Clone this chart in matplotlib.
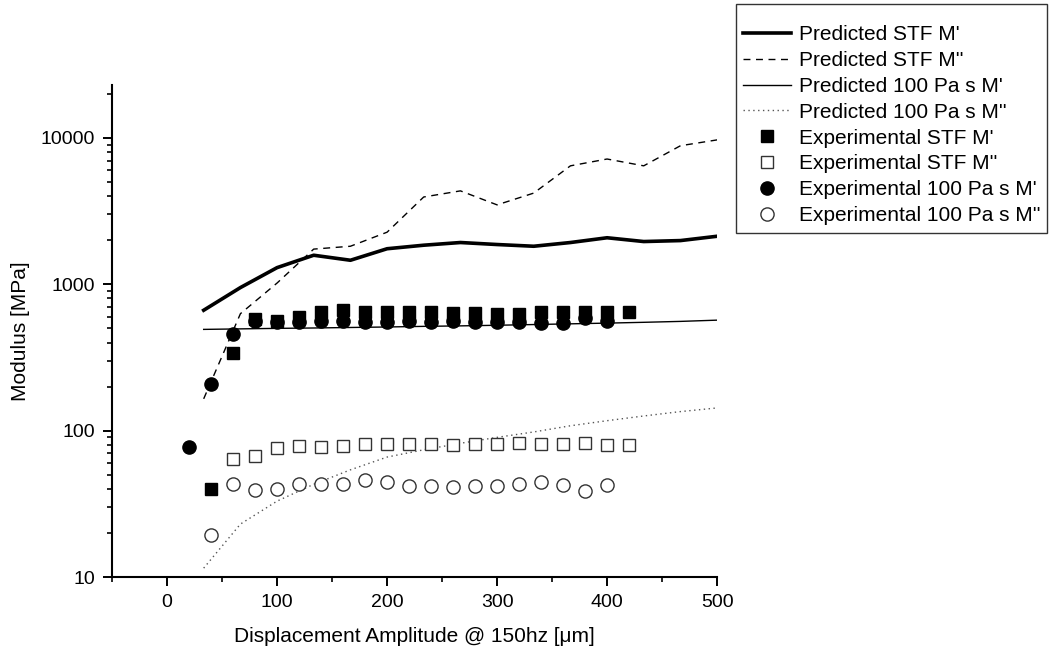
import matplotlib
matplotlib.use("Agg")
import matplotlib.pyplot as plt
from matplotlib.ticker import LogLocator, FixedLocator, NullFormatter

plt.rcParams["font.family"] = ["Liberation Sans", "DejaVu Sans"]

# predicted curves share the same x grid
pred_x = [33.3, 66.7, 100, 133.3, 166.7, 200, 233.3, 266.7, 300, 333.3,
          366.7, 400, 433.3, 466.7, 500]
pred_stf_storage = [665, 950, 1300, 1580, 1460, 1750, 1850, 1930, 1870, 1820,
                    1930, 2080, 1960, 1990, 2130]
pred_stf_loss = [165, 630, 1020, 1740, 1820, 2270, 3950, 4350, 3490, 4200,
                 6450, 7180, 6450, 8850, 9700]
pred_100_storage = [492, 496, 500, 503, 507, 511, 516, 520, 525, 531,
                    537, 543, 550, 558, 569]
pred_100_loss = [11.5, 23, 33, 43, 54, 66, 74, 82, 90, 98,
                 108, 117, 126, 135, 143]

# experimental data
exp_stf_x = [40, 60, 80, 100, 120, 140, 160, 180, 200, 220, 240, 260, 280,
             300, 320, 340, 360, 380, 400, 420]
exp_stf_storage = [40, 342, 575, 560, 600, 643, 663, 646, 646, 646, 643, 636,
                   636, 630, 630, 646, 646, 646, 646, 646]
exp_stf_loss_x = [60, 80, 100, 120, 140, 160, 180, 200, 220, 240, 260, 280,
                  300, 320, 340, 360, 380, 400, 420]
exp_stf_loss = [64, 67.5, 76.5, 79, 77.3, 79, 81.5, 80.5, 81.5, 81.5, 80,
                81.5, 81, 82.5, 81.5, 81.5, 82.5, 80, 80]

exp_100_x = [20, 40, 60, 80, 100, 120, 140, 160, 180, 200, 220, 240, 260,
             280, 300, 320, 340, 360, 380, 400]
exp_100_storage = [77.6, 210, 461, 558, 550, 550, 558, 564, 555, 555, 564,
                   550, 558, 550, 550, 556, 545, 548, 585, 558]
exp_100_loss_x = [40, 60, 80, 100, 120, 140, 160, 180, 200, 220, 240, 260,
                  280, 300, 320, 340, 360, 380, 400]
exp_100_loss = [19.4, 43.4, 39.5, 40, 43, 43, 43, 45.8, 44.5, 42, 42, 41.5,
                42, 42, 43.4, 44.3, 42.6, 38.8, 42.6]

fig = plt.figure(figsize=(10.53, 6.56), dpi=100)
ax = fig.add_axes([0.1064, 0.1204, 0.5746, 0.75])

ax.plot(pred_x, pred_stf_storage, color="black", lw=2.6, label="Predicted STF M'")
ax.plot(pred_x, pred_stf_loss, color="black", lw=1.0, ls=(0, (5, 4)),
        label="Predicted STF M''")
ax.plot(pred_x, pred_100_storage, color="black", lw=1.0,
        label="Predicted 100 Pa s M'")
ax.plot(pred_x, pred_100_loss, color="#555555", lw=1.0, ls=(0, (1, 2.5)),
        label="Predicted 100 Pa s M''")

ax.plot(exp_stf_x, exp_stf_storage, ls="none", marker="s", ms=8,
        mfc="black", mec="black", label="Experimental STF M'", zorder=3)
ax.plot(exp_stf_loss_x, exp_stf_loss, ls="none", marker="s", ms=8,
        mfc="white", mec="#333333", mew=1.0, label="Experimental STF M''",
        zorder=3)
ax.plot(exp_100_x, exp_100_storage, ls="none", marker="o", ms=9.5,
        mfc="black", mec="black", label="Experimental 100 Pa s M'", zorder=4)
ax.plot(exp_100_loss_x, exp_100_loss, ls="none", marker="o", ms=9.5,
        mfc="white", mec="#333333", mew=1.0, label="Experimental 100 Pa s M''",
        zorder=4)

ax.set_yscale("log")
ax.set_xlim(-50, 500)
ax.set_ylim(10, 23000)

ax.xaxis.set_major_locator(FixedLocator([0, 100, 200, 300, 400, 500]))
ax.xaxis.set_minor_locator(FixedLocator([-50, 50, 150, 250, 350, 450]))
ax.yaxis.set_major_locator(FixedLocator([10, 100, 1000, 10000]))
ax.yaxis.set_minor_locator(LogLocator(base=10, subs=range(2, 10), numticks=20))
ax.yaxis.set_minor_formatter(NullFormatter())
ax.set_yticklabels(["10", "100", "1000", "10000"])

ax.tick_params(axis="both", which="major", direction="out", length=6.5,
               width=1.4, labelsize=14, pad=5.5)
ax.tick_params(axis="both", which="minor", direction="out", length=3.6,
               width=1.2)

for side in ("top", "right"):
    ax.spines[side].set_visible(False)
for side in ("left", "bottom"):
    ax.spines[side].set_linewidth(1.5)

ax.set_xlabel("Displacement Amplitude @ 150hz [\u03bcm]", fontsize=15,
              labelpad=12)
ax.set_ylabel("Modulus [MPa]", fontsize=15, labelpad=8)

# the small blank title leaves the extra room above the first entry
leg = fig.legend(loc="upper left", bbox_to_anchor=(0.699, 0.994),
                 fontsize=15, frameon=True, fancybox=False,
                 title=" ", title_fontsize=5,
                 handlelength=2.3, handletextpad=0.35, labelspacing=0.33,
                 borderpad=0.35, borderaxespad=0)
leg.get_frame().set_edgecolor("black")
leg.get_frame().set_linewidth(1.0)

fig.savefig("out.png", dpi=100)
